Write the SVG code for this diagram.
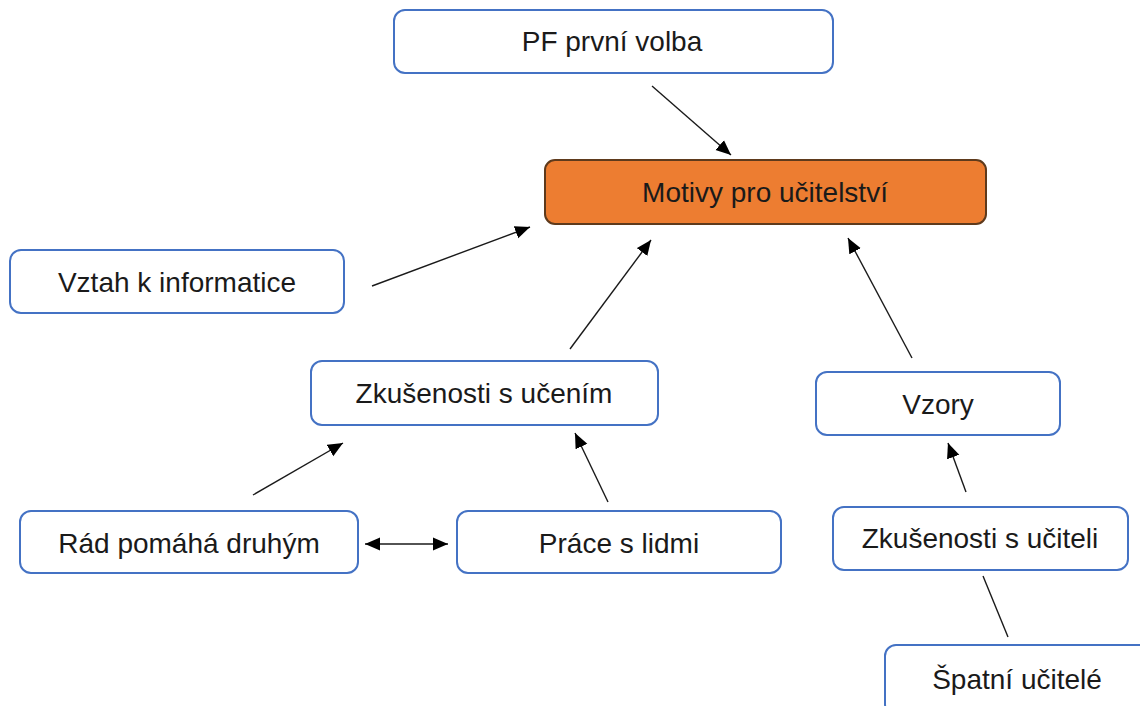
<svg xmlns="http://www.w3.org/2000/svg" width="1140" height="706" viewBox="0 0 1140 706">
<style>
.node{fill:#ffffff;stroke:#4472C4;stroke-width:2}
.main{fill:#ED7D31;stroke:#5e3a1c;stroke-width:2}
.lbl{font-family:"Liberation Sans",Arial,sans-serif;font-size:28px;fill:#1a1a1a;text-anchor:middle}
.edge{stroke:#1a1a1a;stroke-width:1.4;fill:none}
</style>
<defs>
<marker id="ah" markerUnits="userSpaceOnUse" markerWidth="16" markerHeight="14" refX="15" refY="6.5" orient="auto-start-reverse" viewBox="0 0 16 13">
<path d="M0,0 L15,6.5 L0,13 z" fill="#000"/>
</marker>
</defs>
<rect width="1140" height="706" fill="#ffffff"/>
<g id="connectors">
<line class="edge" x1="652" y1="86" x2="731" y2="155" marker-end="url(#ah)"/>
<line class="edge" x1="372" y1="286" x2="530" y2="227" marker-end="url(#ah)"/>
<line class="edge" x1="570" y1="349" x2="651" y2="240" marker-end="url(#ah)"/>
<line class="edge" x1="912" y1="358" x2="848" y2="238" marker-end="url(#ah)"/>
<line class="edge" x1="253" y1="495" x2="343" y2="443" marker-end="url(#ah)"/>
<line class="edge" x1="608" y1="502" x2="575" y2="433" marker-end="url(#ah)"/>
<line class="edge" x1="966" y1="492" x2="948" y2="443" marker-end="url(#ah)"/>
<line class="edge" x1="983" y1="576" x2="1008" y2="637"/>
<line class="edge" x1="365" y1="544" x2="448" y2="544" marker-start="url(#ah)" marker-end="url(#ah)"/>
</g>
<g id="n-pf">
<rect class="node" x="394" y="10" width="439" height="63" rx="11"/>
<text class="lbl" x="612" y="51">PF první volba</text>
</g>
<g id="n-motivy">
<rect class="main" x="545" y="160" width="441" height="64" rx="10"/>
<text class="lbl" x="765" y="202">Motivy pro učitelství</text>
</g>
<g id="n-vztah">
<rect class="node" x="10" y="250" width="334" height="63" rx="11"/>
<text class="lbl" x="177" y="292">Vztah k informatice</text>
</g>
<g id="n-zkuc">
<rect class="node" x="311" y="361" width="347" height="64" rx="11"/>
<text class="lbl" x="484" y="403">Zkušenosti s učením</text>
</g>
<g id="n-vzory">
<rect class="node" x="816" y="372" width="244" height="63" rx="11"/>
<text class="lbl" x="938" y="414">Vzory</text>
</g>
<g id="n-rad">
<rect class="node" x="20" y="511" width="338" height="62" rx="11"/>
<text class="lbl" x="189" y="553">Rád pomáhá druhým</text>
</g>
<g id="n-prace">
<rect class="node" x="457" y="511" width="324" height="62" rx="11"/>
<text class="lbl" x="619" y="553">Práce s lidmi</text>
</g>
<g id="n-zkucitel">
<rect class="node" x="833" y="507" width="295" height="63" rx="11"/>
<text class="lbl" x="980" y="548">Zkušenosti s učiteli</text>
</g>
<g id="n-spatni">
<rect class="node" x="885" y="645" width="270" height="70" rx="11"/>
<text class="lbl" x="1017" y="689">Špatní učitelé</text>
</g>
</svg>
